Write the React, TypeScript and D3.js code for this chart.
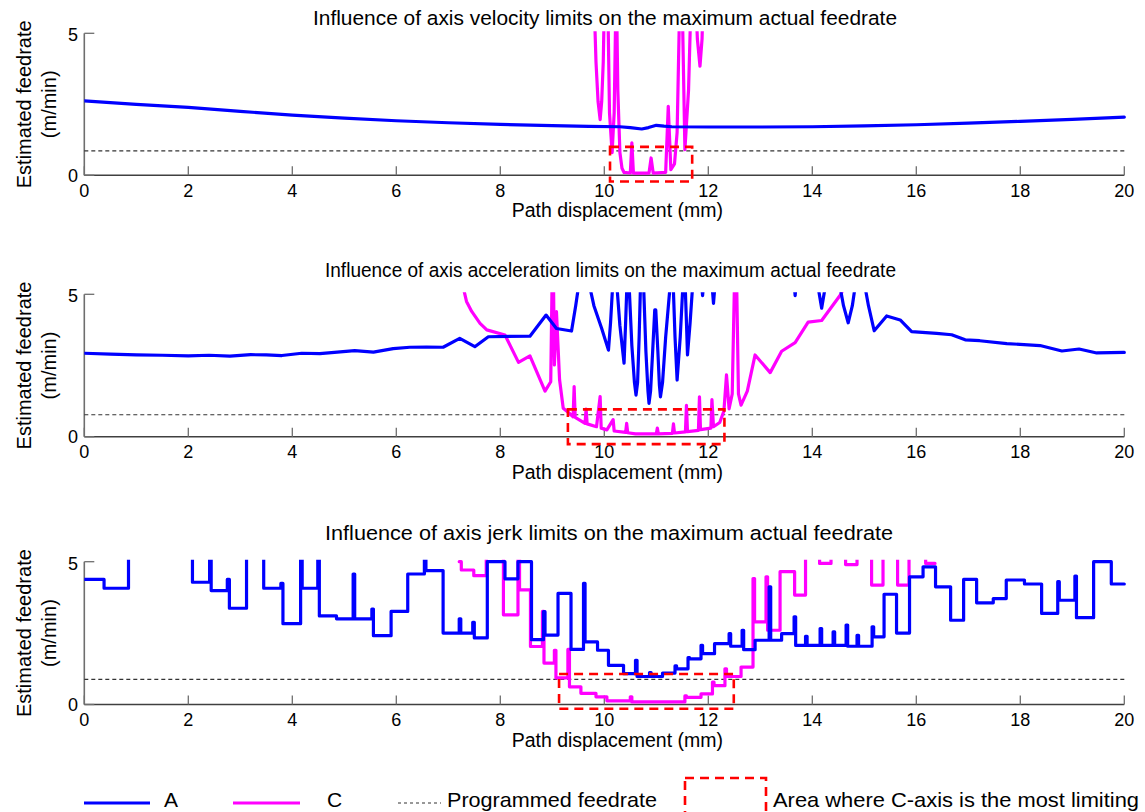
import React from "react";
import * as d3 from "d3";

// ---------- data ----------
const xTicks = [0, 2, 4, 6, 8, 10, 12, 14, 16, 18, 20];
const yTicks = [0, 5];

const titles = [
  "Influence of axis velocity limits on the maximum actual feedrate",
  "Influence of axis acceleration limits on the maximum actual feedrate",
  "Influence of axis jerk limits on the maximum actual feedrate",
];

// programmed feedrate per panel (m/min)
const programmed = [0.86, 0.77, 0.88];

// area where C is most limiting: [x0, x1, y0, y1] in data units
const limitBoxes: number[][] = [
  [10.11, 11.69, -0.22, 1.0],
  [9.3, 12.31, -0.26, 0.96],
  [9.13, 12.49, -0.15, 1.07],
];

// Panel 1 – velocity limits
const velA: [number, number][] = [
  [0, 2.62], [1, 2.5], [2, 2.39], [3, 2.25], [4, 2.12], [5, 2.01], [6, 1.92], [7, 1.85],
  [8, 1.79], [9, 1.75], [9.7, 1.72], [10.3, 1.71], [10.5, 1.68], [10.72, 1.63], [10.85, 1.68],
  [11.0, 1.76], [11.15, 1.73], [11.3, 1.71], [12, 1.7], [13, 1.7], [14, 1.71], [15, 1.74],
  [16, 1.78], [17, 1.84], [18, 1.9], [19, 1.97], [20, 2.05],
];
const velC: [number, number][] = [
  [9.79, 7], [9.84, 4.0], [9.88, 2.6], [9.92, 1.96], [9.95, 2.6], [9.98, 4.0], [10.01, 7],
  [10.06, 7], [10.1, 2.2], [10.15, 0.8], [10.19, 2.2], [10.23, 7],
  [10.26, 3.0], [10.3, 0.8], [10.34, 0.25], [10.38, 0.1], [10.5, 0.08], [10.53, 1.14], [10.56, 0.08],
  [10.86, 0.08], [10.9, 0.61], [10.94, 0.08], [11.18, 0.1], [11.23, 2.43], [11.28, 0.2],
  [11.35, 0.4], [11.4, 1.5], [11.46, 7], [11.49, 7], [11.55, 0.9], [11.62, 3], [11.68, 7],
  [11.74, 7], [11.79, 4.8], [11.84, 3.84], [11.88, 4.8], [11.91, 7],
];

// Panel 2 – acceleration limits
const accA: [number, number][] = [
  [0, 2.93], [0.5, 2.9], [1, 2.87], [1.5, 2.86], [2, 2.84], [2.4, 2.86], [2.8, 2.83], [3.2, 2.88],
  [3.5, 2.87], [3.8, 2.85], [4.18, 2.93], [4.53, 2.92], [5.2, 3.02], [5.56, 2.97], [5.94, 3.09],
  [6.26, 3.14], [6.58, 3.15], [6.9, 3.14], [7.22, 3.45], [7.51, 3.16], [7.77, 3.51], [8.57, 3.53],
  [8.88, 4.27], [9.08, 3.8], [9.37, 3.71], [9.45, 4.6], [9.53, 5.6],
  [9.68, 5.6], [9.8, 4.6], [9.95, 3.8], [10.08, 3.04], [10.12, 4.0], [10.17, 5.6],
  [10.23, 5.6], [10.3, 3.9], [10.38, 2.58], [10.41, 4.0], [10.44, 5.6],
  [10.47, 5.6], [10.53, 3.2], [10.58, 1.9], [10.61, 1.46], [10.64, 1.9], [10.67, 3.5], [10.7, 5.6],
  [10.75, 5.6], [10.8, 3.0], [10.84, 1.6], [10.86, 1.17], [10.89, 1.6], [10.93, 3.0],
  [10.97, 4.45], [10.99, 4.45], [11.03, 3.0], [11.06, 1.8], [11.08, 1.4], [11.12, 1.9],
  [11.18, 3.5], [11.28, 5.6],
  [11.32, 5.6], [11.36, 3.5], [11.4, 1.99], [11.46, 3.5], [11.52, 5.6],
  [11.55, 5.6], [11.58, 4.0], [11.6, 2.87], [11.65, 4.0], [11.71, 5.6],
  [11.86, 5.6], [11.89, 4.95], [11.92, 5.6], [12.06, 5.6], [12.1, 4.68], [12.14, 5.6],
  [13.64, 5.6], [13.67, 4.95], [13.7, 5.6],
  [14.08, 5.6], [14.18, 4.51], [14.28, 5.6],
  [14.5, 5.6], [14.6, 4.6], [14.69, 4.0], [14.77, 4.6], [14.85, 5.6],
  [14.98, 5.6], [15.08, 4.6], [15.19, 3.72], [15.43, 4.24], [15.69, 4.1], [15.91, 3.69],
  [16.39, 3.63], [16.68, 3.58], [16.94, 3.4], [17.22, 3.37], [17.74, 3.27], [18.38, 3.2],
  [18.8, 3.01], [19.13, 3.08], [19.47, 2.94], [20, 2.96],
];
const accC: [number, number][] = [
  [7.28, 5.3], [7.35, 4.75], [7.45, 4.4], [7.61, 3.98], [7.74, 3.75], [8.09, 3.57], [8.35, 2.61],
  [8.57, 2.84], [8.86, 1.6], [8.97, 1.93], [9.0, 6], [9.02, 6], [9.04, 2.52], [9.08, 4.39],
  [9.14, 2.0], [9.21, 1.0], [9.31, 0.85], [9.4, 0.7], [9.42, 1.76], [9.44, 0.68], [9.63, 0.47],
  [9.65, 0.97], [9.67, 0.45], [9.85, 0.35], [9.92, 1.41], [9.94, 0.3], [10.05, 0.24],
  [10.17, 0.6], [10.19, 0.2], [10.41, 0.15], [10.43, 0.47], [10.45, 0.14], [10.6, 0.1],
  [11.0, 0.1], [11.02, 0.3], [11.04, 0.1], [11.31, 0.12], [11.33, 0.45], [11.35, 0.13],
  [11.56, 0.17], [11.58, 1.1], [11.6, 0.18], [11.81, 0.22], [11.83, 1.4], [11.85, 0.25],
  [12.05, 0.3], [12.07, 1.3], [12.1, 0.35], [12.22, 0.5], [12.3, 0.9], [12.35, 2.17],
  [12.4, 0.98], [12.46, 1.5], [12.51, 6], [12.54, 6], [12.58, 1.5], [12.63, 1.11],
  [12.75, 1.6], [12.9, 2.87], [13.19, 2.25], [13.41, 3.0], [13.67, 3.3], [13.92, 4.02],
  [14.18, 4.08], [14.55, 5.0], [14.65, 5.4],
];

// Panel 3 – jerk limits (step series: value holds from x until next x)
const jerkA: [number, number][] = [
  [0, 4.38], [0.38, 4.07], [0.85, 9], [2.08, 4.28], [2.41, 9], [2.44, 3.99], [2.75, 4.38],
  [2.79, 3.37], [3.12, 9], [3.45, 4.07], [3.78, 4.24], [3.82, 2.83], [4.16, 9], [4.19, 4.07],
  [4.49, 9], [4.52, 3.1], [4.85, 3.0], [5.17, 4.57], [5.2, 3.0], [5.53, 3.34], [5.56, 2.41],
  [5.9, 3.26], [6.22, 4.57], [6.54, 9], [6.57, 4.69], [6.9, 2.5], [7.21, 3.0], [7.24, 2.5],
  [7.47, 2.88], [7.5, 2.33], [7.75, 5.0], [8.09, 4.4], [8.34, 5.0], [8.6, 2.27], [8.83, 3.25],
  [8.86, 2.43], [9.11, 3.89], [9.36, 1.93], [9.6, 4.24], [9.63, 2.19], [9.87, 1.9], [10.08, 1.37],
  [10.37, 1.08], [10.6, 1.55], [10.63, 0.98], [10.87, 1.12], [10.9, 0.98], [11.12, 1.1],
  [11.36, 1.35], [11.39, 1.25], [11.61, 1.64], [11.64, 1.6], [11.86, 2.07], [11.89, 1.78],
  [12.12, 2.13], [12.4, 2.48], [12.43, 2.04], [12.65, 2.6], [12.68, 1.92], [12.9, 2.25],
  [13.17, 4.12], [13.2, 2.25], [13.41, 2.48], [13.65, 3.07], [13.68, 2.07], [13.87, 2.39],
  [13.9, 2.07], [14.15, 2.66], [14.18, 2.07], [14.4, 2.54], [14.43, 2.07], [14.65, 2.78],
  [14.68, 2.04], [14.86, 2.42], [14.89, 2.04], [15.15, 2.72], [15.18, 2.37], [15.38, 3.86],
  [15.62, 2.5], [15.87, 4.47], [16.13, 4.82], [16.37, 4.12], [16.66, 2.95], [16.91, 4.38],
  [17.16, 3.56], [17.48, 3.71], [17.73, 4.36], [18.08, 4.22], [18.41, 3.19], [18.72, 4.3],
  [18.75, 3.65], [19.05, 4.5], [19.08, 3.04], [19.41, 5.0], [19.75, 4.22], [20, 4.22],
];
const jerkC: [number, number][] = [
  [7.21, 5.0], [7.25, 4.71], [7.49, 4.51], [7.73, 9], [8.06, 3.14], [8.34, 9], [8.37, 4.01],
  [8.58, 2.03], [8.81, 3.26], [8.84, 1.45], [9.04, 1.9], [9.07, 0.93], [9.3, 1.93], [9.33, 0.62],
  [9.55, 0.39], [9.84, 0.27], [10.05, 0.13], [10.5, 0.27], [10.53, 0.09], [11.55, 0.3],
  [11.58, 0.25], [11.86, 0.37], [12.08, 0.78], [12.11, 0.66], [12.32, 1.25], [12.35, 0.98],
  [12.63, 1.31], [12.86, 4.41], [12.89, 2.89], [13.11, 4.47], [13.14, 2.6], [13.38, 4.65],
  [13.66, 3.83], [13.87, 9], [14.14, 4.94], [14.36, 9], [14.64, 4.9], [14.86, 9], [15.14, 4.18],
  [15.36, 9], [15.64, 4.18], [15.86, 9], [16.18, 4.94], [16.36, 4.94],
];

// ---------- layout ----------
const W = 1145;
const H = 812;
const X0 = 84.3;
const X1 = 1124.3;
const panelY: [number, number][] = [
  [175.3, 33.3],
  [436.7, 294.3],
  [704.5, 561.7],
];
const titleBaselines = [25, 277, 540];
const titleSpans: [number, number][] = [
  [313, 897],
  [325, 896],
  [325, 893],
];
const BLUE = "#0000ff";
const MAGENTA = "#ff00ff";
const RED = "#ff0000";
const FONT = "Arial, 'Liberation Sans', Helvetica, sans-serif";

const x = d3.scaleLinear().domain([0, 20]).range([X0, X1]);

type Series = { data: [number, number][]; color: string; step?: boolean };

const panelSeries: Series[][] = [
  [
    { data: velC, color: MAGENTA },
    { data: velA, color: BLUE },
  ],
  [
    { data: accC, color: MAGENTA },
    { data: accA, color: BLUE },
  ],
  [
    { data: jerkC, color: MAGENTA, step: true },
    { data: jerkA, color: BLUE, step: true },
  ],
];

function Panel({ idx }: { idx: number }) {
  const [yb, yt] = panelY[idx];
  const y = d3.scaleLinear().domain([0, 5]).range([yb, yt]);
  const clipId = `clip-${idx}`;
  const cy = (yb + yt) / 2;
  const box = limitBoxes[idx];
  const [ts0, ts1] = titleSpans[idx];
  return (
    <g>
      <defs>
        <clipPath id={clipId}>
          <rect x={X0} y={yt - 2} width={X1 - X0 + 2} height={yb - yt + 4} />
        </clipPath>
      </defs>
      <text
        x={ts0}
        y={titleBaselines[idx]}
        fontSize={20.5}
        fontFamily={FONT}
        fill="#000"
        textLength={ts1 - ts0}
        lengthAdjust="spacingAndGlyphs"
      >
        {titles[idx]}
      </text>
      <text transform={`translate(31,${cy}) rotate(-90)`} fontSize={20} textAnchor="middle" fontFamily={FONT}>
        Estimated feedrate
      </text>
      <text transform={`translate(56,${cy}) rotate(-90)`} fontSize={20} textAnchor="middle" fontFamily={FONT}>
        (m/min)
      </text>
      {/* axes */}
      <line x1={X0} x2={X0} y1={yt} y2={yb} stroke="#6e6e6e" strokeWidth={1.6} />
      <line x1={X0} x2={X1} y1={yb} y2={yb} stroke="#404040" strokeWidth={1.6} />
      {xTicks.map((t) => (
        <g key={t}>
          <line x1={x(t)} x2={x(t)} y1={yb} y2={yb - 9} stroke="#6e6e6e" strokeWidth={1.3} />
          <text x={x(t)} y={yb + 21.5} fontSize={18} textAnchor="middle" fontFamily={FONT}>
            {t}
          </text>
        </g>
      ))}
      {yTicks.map((t) => (
        <g key={t}>
          <line x1={X0} x2={X0 + 10} y1={y(t)} y2={y(t)} stroke="#6e6e6e" strokeWidth={1.3} />
          <text x={78} y={y(t) + (t === 5 ? 8 : 6.5)} fontSize={18} textAnchor="end" fontFamily={FONT}>
            {t}
          </text>
        </g>
      ))}
      <text x={(X0 + X1) / 2 + 13} y={yb + 42} fontSize={19.5} textAnchor="middle" fontFamily={FONT}>
        Path displacement (mm)
      </text>
      {/* programmed feedrate */}
      <line
        x1={X0}
        x2={X1}
        y1={y(programmed[idx])}
        y2={y(programmed[idx])}
        stroke="#333"
        strokeWidth={1.1}
        strokeDasharray="4,3"
      />
      <g clipPath={`url(#${clipId})`}>
        {panelSeries[idx].map((s, i) => {
          const gen = d3
            .line<[number, number]>()
            .x((d) => x(d[0]))
            .y((d) => y(d[1]))
            .curve(s.step ? d3.curveStepAfter : d3.curveLinear);
          return (
            <path
              key={i}
              d={gen(s.data) || ""}
              fill="none"
              stroke={s.color}
              strokeWidth={3.2}
              strokeLinejoin="round"
              strokeLinecap="round"
            />
          );
        })}
      </g>
      <rect
        x={x(box[0])}
        y={y(box[3])}
        width={x(box[1]) - x(box[0])}
        height={y(box[2]) - y(box[3])}
        fill="none"
        stroke={RED}
        strokeWidth={2.6}
        strokeDasharray="9,6"
      />
    </g>
  );
}

function Legend() {
  const ly = 803;
  const tb = 807;
  return (
    <g fontFamily={FONT} fontSize={21}>
      <line x1={84} x2={150} y1={ly} y2={ly} stroke={BLUE} strokeWidth={3.2} />
      <text x={164} y={tb}>A</text>
      <line x1={233} x2={300} y1={ly} y2={ly} stroke={MAGENTA} strokeWidth={3.2} />
      <text x={327} y={tb}>C</text>
      <line x1={398} x2={441} y1={ly} y2={ly} stroke="#333" strokeWidth={1.1} strokeDasharray="3,3" />
      <text x={447} y={tb} textLength={210} lengthAdjust="spacingAndGlyphs">
        Programmed feedrate
      </text>
      <rect x={685} y={778} width={81} height={45} fill="none" stroke={RED} strokeWidth={2.6} strokeDasharray="9,6" />
      <text x={773} y={tb} textLength={366} lengthAdjust="spacingAndGlyphs">
        Area where C-axis is the most limiting
      </text>
    </g>
  );
}

export default function App() {
  return (
    <svg
      width={W}
      height={H}
      viewBox={`0 0 ${W} ${H}`}
      style={{ position: "absolute", left: 0, top: 0, background: "#fff" }}
    >
      <rect x={0} y={0} width={W} height={H} fill="#fff" />
      {[0, 1, 2].map((i) => (
        <Panel key={i} idx={i} />
      ))}
      <Legend />
    </svg>
  );
}
